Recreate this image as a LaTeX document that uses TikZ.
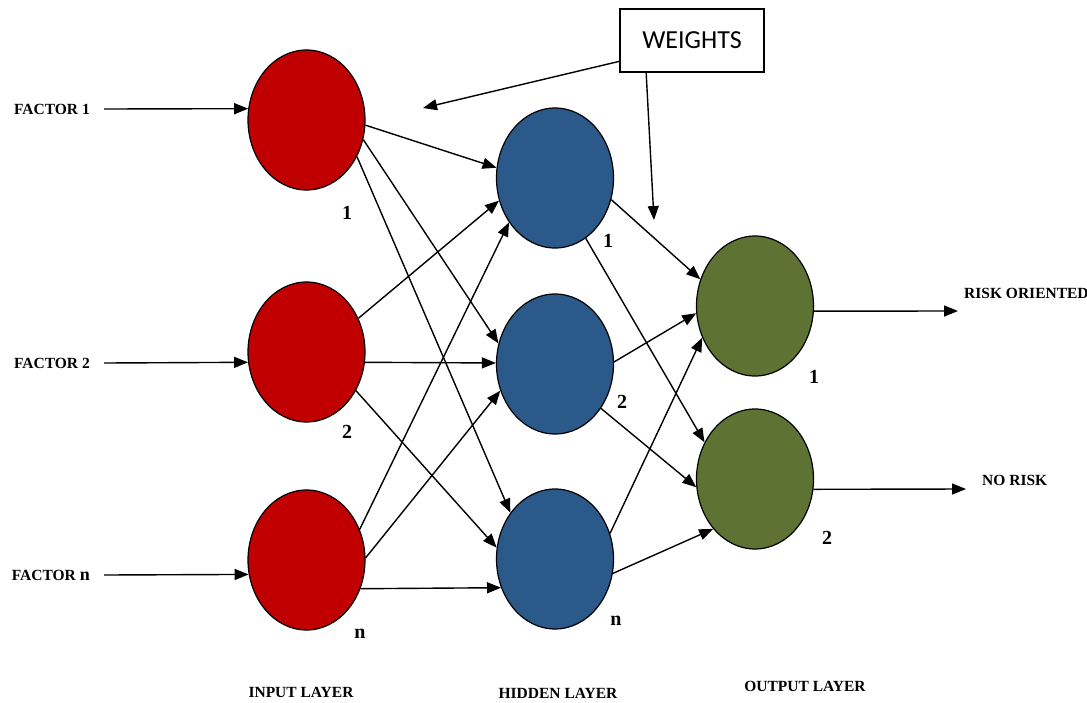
\documentclass[tikz,border=0pt]{standalone}
\usepackage{fontspec}
\setmainfont{Liberation Serif}
\newfontfamily\boxfont{Carlito}
\usetikzlibrary{arrows.meta,shapes.geometric}

\definecolor{inred}{RGB}{192,0,0}
\definecolor{hidblue}{RGB}{42,89,138}
\definecolor{outgreen}{RGB}{94,114,52}

\begin{document}
\begin{tikzpicture}[x=1pt, y=-1pt, font=\bfseries\fontsize{15.5}{17}\selectfont, >={Triangle[length=14pt,width=11pt]},
 neuron/.style={draw, ellipse, line width=1.2pt, minimum width=117pt, minimum height=140pt, inner sep=0pt},
 num/.style={font=\bfseries\fontsize{20}{20}\selectfont, inner sep=0pt},
 factor/.style={anchor=east, inner sep=0pt, inner xsep=14pt},
 line/.style={->, line width=1.4pt}]
\useasboundingbox (0,0) rectangle (1087,702);
% layers
\node[neuron, fill=inred] (in1) at (306.5,120) {};
\node[neuron, fill=inred] (in2) at (306.5,352) {};
\node[neuron, fill=inred] (inn) at (306.5,560) {};
\node[neuron, fill=hidblue] (hid1) at (555,178) {};
\node[neuron, fill=hidblue] (hid2) at (555,364) {};
\node[neuron, fill=hidblue] (hidn) at (555,559) {};
\node[neuron, fill=outgreen] (out1) at (755,306) {};
\node[neuron, fill=outgreen] (out2) at (755,479) {};
% numbers
\node[num] at (347,213) {1}; \node[num] at (347,432) {2}; \node[num] at (360,634) {n};
\node[num] at (608,241) {1}; \node[num] at (622,402) {2}; \node[num] at (616,621) {n};
\node[num] at (814,377) {1}; \node[num] at (827,538) {2};
% inputs and outputs
\node[factor] (f1) at (104,109) {FACTOR 1};
\node[factor] (f2) at (104,363) {FACTOR 2};
\node[factor] (fn) at (104,575) {FACTOR {\fontsize{18}{18}\selectfont n}};
\coordinate (r1) at (958,311);
\coordinate (r2) at (966,489);
\node[anchor=west, inner sep=0pt] (risk) at (964,293) {RISK ORIENTED};
\node[anchor=west, inner sep=0pt] (norisk) at (982,480) {NO RISK};
\draw[line] (f1.east) -- (in1.169);
\draw[line] (f2.east) -- (in2.190);
\draw[line] (fn.east) -- (inn.194);
\draw[line] (out1.-5) -- (r1);
\draw[line] (out2.-10) -- (r2);
% input to hidden
\draw[line] (in1.-5) -- (hid1.170); \draw[line] (in1.-19) -- (hid2.160); \draw[line] (in1.-36) -- (hidn.134);
\draw[line] (in2.33) -- (hid1.202); \draw[line] (in2.-10) -- (hid2.179); \draw[line] (in2.-38) -- (hidn.169);
\draw[line] (inn.30) -- (hid1.224); \draw[line] (inn.2) -- (hid2.206); \draw[line] (inn.-28) -- (hidn.208);
% hidden to output
\draw[line] (hid1.-21) -- (out1.154); \draw[line] (hid1.-63) -- (out2.144);
\draw[line] (hid2.2) -- (out1.187); \draw[line] (hid2.-44) -- (out2.188);
\draw[line] (hidn.25) -- (out1.211); \draw[line] (hidn.-14) -- (out2.230);
% weights
\node[draw, line width=1.2pt, minimum width=144pt, minimum height=63pt, font=\boxfont\fontsize{26}{26}\selectfont] (w) at (692,40.5) {WEIGHTS};
\coordinate (wa) at (423,108);
\coordinate (wb) at (654,220);
\draw[line] (w.196.6) -- (wa);
\draw[line] (w.215) -- (wb);
% layer names
\node (li) at (301,692) {INPUT LAYER};
\node (lh) at (558,693) {HIDDEN LAYER};
\node (lo) at (805,686) {OUTPUT LAYER};
\end{tikzpicture}
\end{document}
